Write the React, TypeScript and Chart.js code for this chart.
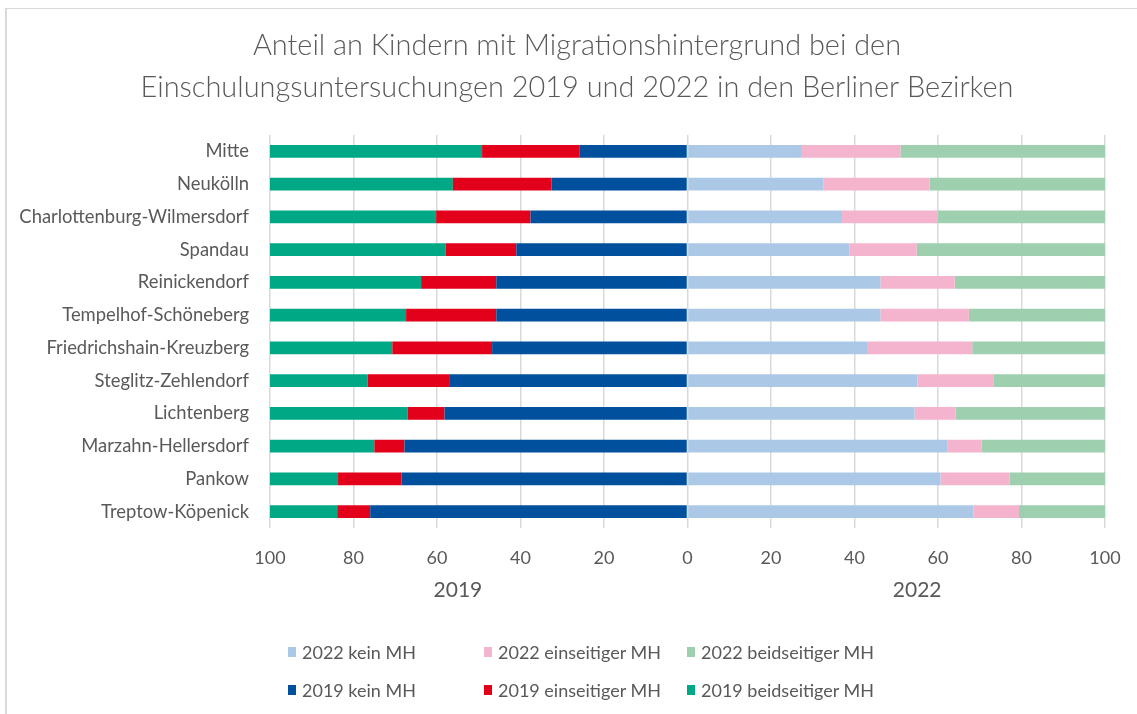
import React, { useEffect, useRef } from 'react';
import { Chart, registerables } from 'chart.js';

Chart.register(...registerables);

const titleLines = [
  'Anteil an Kindern mit Migrationshintergrund bei den',
  'Einschulungsuntersuchungen 2019 und 2022 in den Berliner Bezirken',
];

const categories = [
  'Mitte',
  'Neukölln',
  'Charlottenburg-Wilmersdorf',
  'Spandau',
  'Reinickendorf',
  'Tempelhof-Schöneberg',
  'Friedrichshain-Kreuzberg',
  'Steglitz-Zehlendorf',
  'Lichtenberg',
  'Marzahn-Hellersdorf',
  'Pankow',
  'Treptow-Köpenick',
];

// 2019 (drawn to the left)
const kein2019 = [25.8, 32.6, 37.6, 41.0, 45.8, 45.8, 46.8, 57.1, 58.2, 67.8, 68.5, 76.0];
const ein2019 = [23.4, 23.6, 22.6, 16.9, 18.0, 21.6, 23.9, 19.5, 8.8, 7.2, 15.2, 7.9];
const beid2019 = [50.8, 43.8, 39.8, 42.1, 36.2, 32.6, 29.3, 23.4, 33.0, 25.0, 16.3, 16.1];

// 2022 (drawn to the right)
const kein2022 = [27.4, 32.6, 37.0, 38.8, 46.2, 46.2, 43.0, 55.1, 54.4, 62.3, 60.6, 68.5];
const ein2022 = [23.6, 25.4, 23.0, 16.1, 17.8, 21.2, 25.2, 18.3, 9.8, 8.1, 16.5, 10.9];
const beid2022 = [49.0, 42.0, 40.0, 45.1, 36.0, 32.6, 31.8, 26.6, 35.8, 29.6, 22.9, 20.6];

const yearTitles = ['2019', '2022'];

const legendLabels = [
  '2022 kein MH',
  '2022 einseitiger MH',
  '2022 beidseitiger MH',
  '2019 kein MH',
  '2019 einseitiger MH',
  '2019 beidseitiger MH',
];

const COLORS: Record<string, string> = {
  '2019 kein MH': '#00509E',
  '2019 einseitiger MH': '#E2001A',
  '2019 beidseitiger MH': '#00A886',
  '2022 kein MH': '#ABC9E6',
  '2022 einseitiger MH': '#F4B4CD',
  '2022 beidseitiger MH': '#9ECFAF',
};

const TEXT = '#595959';
const FONT = 'Lato, "Open Sans", sans-serif';

const textPlugin = {
  id: 'extraText',
  afterDraw(chart: any) {
    const { ctx, chartArea } = chart;
    const x = chart.scales.x;
    ctx.save();
    ctx.fillStyle = TEXT;
    ctx.textAlign = 'center';
    ctx.textBaseline = 'middle';
    // title
    ctx.font = '300 28.9px ' + FONT;
    ctx.fillText(titleLines[0], 577, 46);
    ctx.fillText(titleLines[1], 577, 88);
    // year axis titles
    ctx.font = '21px ' + FONT;
    const y = chartArea.bottom + 62;
    ctx.fillText(yearTitles[0], x.getPixelForValue(-55), y);
    ctx.fillText(yearTitles[1], x.getPixelForValue(55), y);
    ctx.restore();
  },
};

export default function App() {
  const canvasRef = useRef<HTMLCanvasElement | null>(null);

  useEffect(() => {
    document.body.style.margin = '0';
    document.body.style.overflow = 'hidden';
    const canvas = canvasRef.current;
    if (!canvas) return;
    const neg = (arr: number[]) => arr.map((v) => -v);
    const chart = new Chart(canvas, {
      type: 'bar',
      data: {
        labels: categories,
        datasets: [
          { label: '2019 kein MH', data: neg(kein2019), backgroundColor: COLORS['2019 kein MH'] },
          { label: '2019 einseitiger MH', data: neg(ein2019), backgroundColor: COLORS['2019 einseitiger MH'] },
          { label: '2019 beidseitiger MH', data: neg(beid2019), backgroundColor: COLORS['2019 beidseitiger MH'] },
          { label: '2022 kein MH', data: kein2022, backgroundColor: COLORS['2022 kein MH'] },
          { label: '2022 einseitiger MH', data: ein2022, backgroundColor: COLORS['2022 einseitiger MH'] },
          { label: '2022 beidseitiger MH', data: beid2022, backgroundColor: COLORS['2022 beidseitiger MH'] },
        ],
      },
      options: {
        indexAxis: 'y',
        responsive: false,
        animation: false,
        devicePixelRatio: 1,
        datasets: {
          bar: {
            barPercentage: 0.39,
            categoryPercentage: 1,
            borderWidth: 0,
          },
        },
        layout: { padding: { top: 135, left: 0, right: 32, bottom: 116 } },
        plugins: {
          legend: { display: false },
          tooltip: { enabled: false },
          title: { display: false },
        },
        scales: {
          x: {
            stacked: true,
            min: -100,
            max: 100,
            grid: { color: '#D9D9D9', lineWidth: 1.5, drawTicks: false },
            border: { display: false },
            ticks: {
              stepSize: 20,
              padding: 19,
              color: TEXT,
              font: { family: FONT, size: 18 },
              callback: (v: any) => String(Math.abs(Number(v))),
            },
            afterFit: (scale: any) => {
              scale.height = 70;
              scale.paddingLeft = 0;
              scale.paddingRight = 0;
            },
          },
          y: {
            stacked: true,
            grid: { display: false },
            border: { display: false },
            ticks: {
              padding: 13,
              color: TEXT,
              font: { family: FONT, size: 18.4 },
            },
            afterFit: (scale: any) => {
              scale.width = 270;
            },
          },
        },
      },
      plugins: [textPlugin],
    } as any);
    return () => chart.destroy();
  }, []);

  const colX = [288, 484, 687];
  const rowY = [652, 690];

  return (
    <div style={{ position: 'relative', width: 1137, height: 714, overflow: 'hidden', background: '#fff' }}>
      <div
        style={{
          position: 'absolute',
          left: 5,
          top: 8,
          width: 1200,
          height: 800,
          borderLeft: '2px solid #D9D9D9',
          borderTop: '1px solid #D9D9D9',
          boxSizing: 'border-box',
        }}
      />
      <canvas ref={canvasRef} width={1137} height={714} style={{ position: 'absolute', left: 0, top: 0, width: 1137, height: 714 }} />
      {legendLabels.map((lab, i) => (
        <div
          key={lab}
          style={{
            position: 'absolute',
            left: colX[i % 3],
            top: rowY[Math.floor(i / 3)] - 11,
            height: 22,
            display: 'flex',
            alignItems: 'center',
            fontFamily: FONT,
            fontSize: 18,
            color: TEXT,
            whiteSpace: 'nowrap',
          }}
        >
          <span style={{ display: 'inline-block', width: 8, height: 10, background: COLORS[lab], marginRight: 6 }} />
          <span>{lab}</span>
        </div>
      ))}
    </div>
  );
}
